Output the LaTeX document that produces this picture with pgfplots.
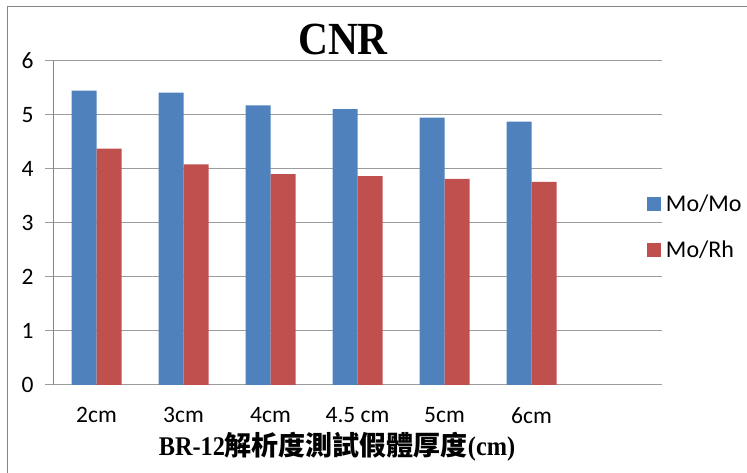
\documentclass[border=0pt]{standalone}
\usepackage{graphicx}
\usepackage{pgfplots}
\pgfplotsset{compat=1.18}
\usepackage{fontspec}
\setmainfont{Liberation Serif}
\newfontfamily\cjk{Noto Sans CJK TC}
\newfontfamily\calibri{Carlito}
\definecolor{moblue}{HTML}{4F81BD}
\definecolor{mored}{HTML}{C0504D}
\definecolor{gridgray}{HTML}{9C9C9C}
\definecolor{framegray}{HTML}{868686}

\pgfplotstableread{
x  momo   morh
0  5.450  4.375
1  5.415  4.085
2  5.180  3.905
3  5.110  3.870
4  4.950  3.815
5  4.875  3.760
}\cnrdata

\begin{document}
\begin{tikzpicture}[x=1pt,y=1pt]
\path[use as bounding box] (0,0) rectangle (747,473);
% chart frame
\draw[framegray, line width=1.5pt] (7.5,-2) -- (7.5,466.5) -- (749,466.5);
\begin{axis}[
  at={(53pt,88pt)}, anchor=south west,
  width=609pt, height=324pt, scale only axis,
  ybar=0pt, bar width=25pt,
  xmin=-0.5, xmax=6.5, ymin=0, ymax=6,
  xtick={0,...,5},
  xticklabels={2cm,3cm,4cm,4.5 cm,5cm,6cm},
  ytick={0,...,6},
  x tick style={draw=none},
  y tick style={gridgray, line width=1pt},
  tick align=outside, major tick length=8pt,
  ymajorgrids, grid style={gridgray, line width=1pt},
  axis x line*=bottom, axis y line*=left,
  x axis line style={gridgray, line width=1pt},
  y axis line style={framegray, line width=1pt},
  /pgf/number format/assume math mode=true,
  ticklabel style={font=\calibri\fontsize{23.5}{23.5}\selectfont},
  yticklabel style={xshift=-8pt},
  xticklabel style={yshift=-11pt},
  legend style={at={(0.975,0.488)}, anchor=west, draw=none, fill=none,
    font=\calibri\fontsize{24}{24}\selectfont, inner sep=0pt,
    row sep=28pt, column sep=5pt, nodes={inner sep=0pt}},
  legend cell align=left,
  legend image code/.code={\fill[#1] (0pt,-7pt) rectangle (14pt,7pt);},
]
\addplot[fill=moblue, draw=none] table[x=x, y=momo] {\cnrdata};
\addplot[fill=mored, draw=none] table[x=x, y=morh] {\cnrdata};
\legend{Mo/Mo, Mo/Rh}
\end{axis}
\node[font=\bfseries\fontsize{46}{46}\selectfont] at (343,433) {\scalebox{0.9}[1]{CNR}};
\node[font=\bfseries\fontsize{27}{27}\selectfont] at (337,26)
  {\scalebox{0.9}[1]{BR-12}{\cjk 解析度測試假體厚度}\scalebox{0.9}[1]{(cm)}};
\end{tikzpicture}
\end{document}
